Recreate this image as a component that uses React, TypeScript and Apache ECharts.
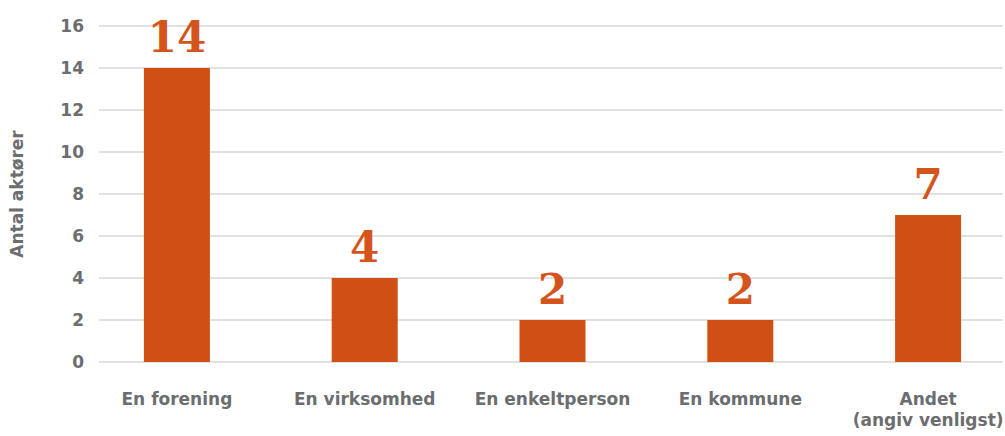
import React, { useEffect, useRef } from "react";
import * as echarts from "echarts";

const categories = ["En forening", "En virksomhed", "En enkeltperson", "En kommune", "Andet\n(angiv venligst)"];
const values = [14, 4, 2, 2, 7];
const yTicks = { min: 0, max: 16, interval: 2 };
const yAxisTitle = "Antal aktører";

const BAR = "#d04f14";
const GREY = "#6b6d6f";
const W = 1030;

export default function App() {
  const ref = useRef<HTMLDivElement>(null);
  useEffect(() => {
    const chart = echarts.init(ref.current!, null, { renderer: "svg" });
    chart.setOption({
      animation: false,
      backgroundColor: "#ffffff",
      grid: [
        { left: 93, right: W - 1003, top: 26, bottom: 74 },
        { left: 83, width: 939, top: 26, bottom: 74 },
      ],
      xAxis: [
        { type: "category", gridIndex: 0, data: categories, show: false },
        {
          type: "category",
          gridIndex: 1,
          data: categories,
          axisLine: { show: false },
          axisTick: { show: false },
          axisLabel: {
            interval: 0,
            margin: 26,
            color: GREY,
            fontFamily: "DejaVu Sans",
            fontWeight: "bold",
            fontSize: 17,
            lineHeight: 21,
          },
        },
      ],
      yAxis: [
        {
          type: "value",
          gridIndex: 0,
          min: yTicks.min,
          max: yTicks.max,
          interval: yTicks.interval,
          name: yAxisTitle,
          nameLocation: "middle",
          nameRotate: 90,
          nameGap: 74,
          nameTextStyle: { color: GREY, fontFamily: "DejaVu Sans", fontWeight: "bold", fontSize: 17 },
          axisLine: { show: false },
          axisTick: { show: false },
          axisLabel: { margin: 15, color: GREY, fontFamily: "DejaVu Sans", fontWeight: "bold", fontSize: 17 },
          splitLine: { show: true, lineStyle: { color: "#e1e1e1", width: 2 } },
        },
        {
          type: "value",
          gridIndex: 1,
          min: yTicks.min,
          max: yTicks.max,
          interval: yTicks.interval,
          show: false,
          splitLine: { show: false },
        },
      ],
      series: [
        {
          type: "bar",
          xAxisIndex: 1,
          yAxisIndex: 1,
          data: values,
          barWidth: 66,
          itemStyle: { color: BAR },
          label: {
            show: true,
            position: "top",
            distance: 10,
            color: "#d4541b",
            fontFamily: "DejaVu Serif",
            fontWeight: "bold",
            fontSize: 42,
          },
        },
      ],
    });
    return () => chart.dispose();
  }, []);
  return <div ref={ref} style={{ position: "fixed", left: 0, top: 0, width: W, height: 436 }} />;
}
